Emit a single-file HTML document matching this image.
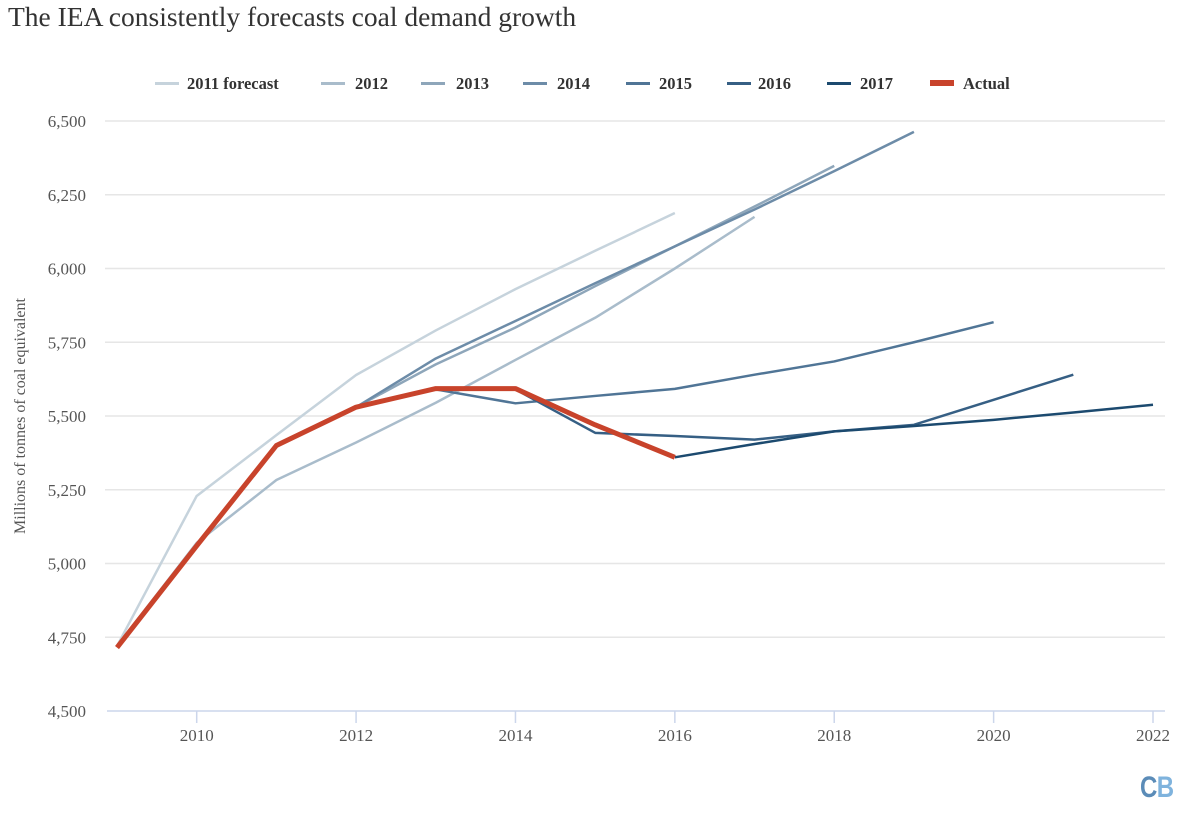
<!DOCTYPE html>
<html><head><meta charset="utf-8">
<style>
body{margin:0;background:#fff;width:1200px;height:815px;overflow:hidden;font-family:"Liberation Serif",serif;}
svg text{font-family:"Liberation Serif",serif;}
</style></head>
<body>
<svg id="chart" width="1200" height="815" xmlns="http://www.w3.org/2000/svg">
<text x="8" y="26" font-size="27.5" fill="#333">The IEA consistently forecasts coal demand growth</text>
<g id="grid"></g>
<g id="axes"></g>
<g id="series"></g>
<g id="legend"></g>
<text transform="translate(25,416) rotate(-90)" text-anchor="middle" font-size="16" fill="#555">Millions of tonnes of coal equivalent</text>
<g transform="translate(1140,797) scale(0.8,1)">
<text x="0" y="0" font-size="30" font-weight="bold" fill="#5b8cb8" style="font-family:'Liberation Sans',sans-serif">C</text>
<text x="21" y="0" font-size="30" font-weight="bold" fill="#7fb3dd" style="font-family:'Liberation Sans',sans-serif">B</text>
</g>
</svg>
<script>
const yTicks=[4500,4750,5000,5250,5500,5750,6000,6250,6500];
const xTicks=[2010,2012,2014,2016,2018,2020,2022];
const seriesNames=["2011 forecast","2012","2013","2014","2015","2016","2017","Actual"];
const s2011Years=[2009,2010,2011,2012,2013,2014,2015,2016];
const s2011=[4720,5229,5435,5639,5790,5930,6060,6188];
const s2012Years=[2009,2010,2011,2012,2013,2014,2015,2016,2017];
const s2012=[4720,5070,5283,5410,5545,5690,5833,6000,6175];
const s2013Years=[2012,2013,2014,2015,2016,2017,2018];
const s2013=[5530,5675,5800,5940,6075,6210,6348];
const s2014Years=[2012,2013,2014,2015,2016,2017,2018,2019];
const s2014=[5530,5695,5822,5950,6075,6200,6330,6463];
const s2015Years=[2013,2014,2015,2016,2017,2018,2019,2020];
const s2015=[5590,5543,5568,5592,5640,5685,5750,5818];
const s2016Years=[2014,2015,2016,2017,2018,2019,2020,2021];
const s2016=[5590,5443,5432,5420,5448,5470,5555,5640];
const s2017Years=[2016,2017,2018,2019,2020,2021,2022];
const s2017=[5360,5405,5448,5466,5487,5512,5538];
const actualYears=[2009,2010,2011,2012,2013,2014,2015,2016];
const actual=[4715,5060,5400,5530,5593,5593,5470,5360];

const NS="http://www.w3.org/2000/svg";
const X0=117,X1=1153,Y0=711,Y1=121;
function xs(yr){return X0+(yr-2009)*(X1-X0)/(2022-2009);}
function ys(v){return Y0-(v-4500)*(Y0-Y1)/(6500-4500);}
function mk(tag,attrs,parent){const e=document.createElementNS(NS,tag);for(const k in attrs)e.setAttribute(k,attrs[k]);parent.appendChild(e);return e;}
const grid=document.getElementById('grid'),axes=document.getElementById('axes'),ser=document.getElementById('series'),leg=document.getElementById('legend');
yTicks.forEach(t=>{
 if(t>4500){const l=mk('line',{x1:105,x2:1165,y1:ys(t),y2:ys(t),stroke:'#e6e6e6','stroke-width':1.5},grid);
 
 }
 const tx=mk('text',{x:86,y:ys(t)+6,'text-anchor':'end','font-size':17,fill:'#555'},axes);
 tx.textContent=t.toLocaleString('en-US');
 
 
});
const ax=mk('line',{x1:107,x2:1165,y1:Y0,y2:Y0,stroke:'#ccd6eb','stroke-width':1.5},axes);


xTicks.forEach(t=>{
 const tk=mk('line',{x1:xs(t),x2:xs(t),y1:Y0,y2:Y0+12,stroke:'#ccd6eb','stroke-width':1.5},axes);
 
 
 const tx=mk('text',{x:xs(t),y:741,'text-anchor':'middle','font-size':17,fill:'#555'},axes);
 tx.textContent=t;
 
 
});
const colors=['#c6d3dc','#a9bccb','#8ea6ba','#6d8ca8','#507596','#365f84','#1c4a6f','#c8432b'];
const data=[[s2011Years,s2011],[s2012Years,s2012],[s2013Years,s2013],[s2014Years,s2014],[s2015Years,s2015],[s2016Years,s2016],[s2017Years,s2017],[actualYears,actual]];
data.forEach((d,i)=>{
 const pts=d[0].map((yr,j)=>xs(yr)+','+ys(d[1][j])).join(' ');
 const p=mk('polyline',{points:pts,fill:'none',stroke:colors[i],'stroke-width':i==7?5:2.5,'stroke-linejoin':'round'},ser);
 
 
});
const legX=[155,321,421,523,626,727,827,930];
const legTX=[187,355,456,557,659,758,860,963];
seriesNames.forEach((n,i)=>{
 const g=mk('g',{},leg);
 
 
 mk('rect',{x:legX[i],y:i==7?80:82,width:24,height:i==7?6:3,fill:colors[i]},g);
 const t=mk('text',{x:legTX[i],y:89,'font-size':16.5,'font-weight':'bold',fill:'#333'},g);
 t.textContent=n;
});
</script>
</body></html>
